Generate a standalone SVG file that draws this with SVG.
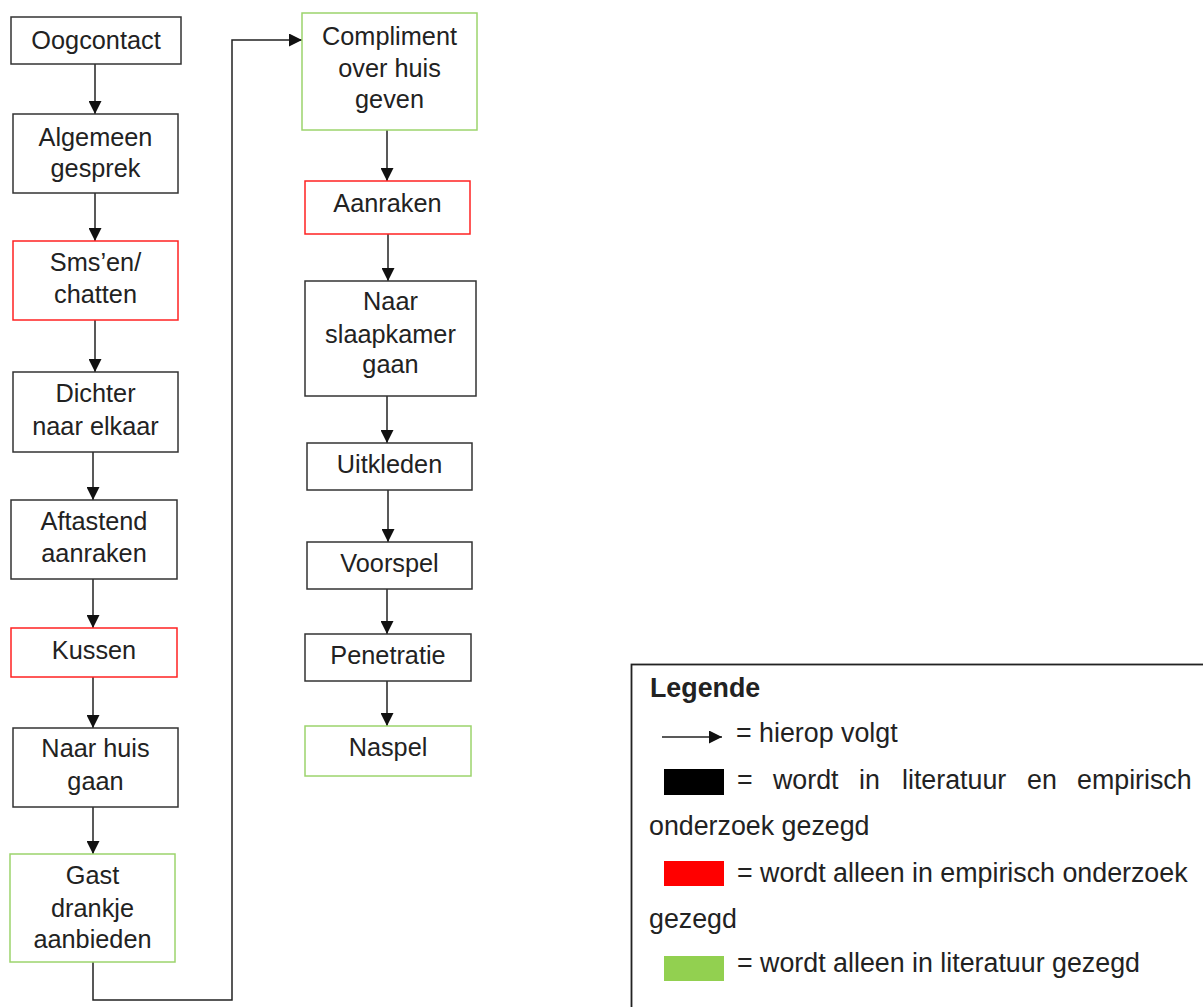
<svg xmlns="http://www.w3.org/2000/svg" width="1203" height="1007" viewBox="0 0 1203 1007">
<style>
  .box{fill:#fff;stroke-width:1.5}
  .k{stroke:#333}
  .r{stroke:#f22}
  .g{stroke:#9cd46c}
  .t{font-family:"Liberation Sans",Arial,sans-serif;font-size:25.3px;fill:#222;text-anchor:middle}
  .lg{font-family:"Liberation Sans",Arial,sans-serif;font-size:26.8px;fill:#222}
  .c{fill:none;stroke:#222;stroke-width:1.5}
</style>
<defs>
  <marker id="ah" viewBox="0 0 13 13" refX="13" refY="6.5" markerWidth="13" markerHeight="13" markerUnits="userSpaceOnUse" orient="auto">
    <path d="M0,0 L13,6.5 L0,13 z" fill="#111"/>
  </marker>
</defs>
<rect width="1203" height="1007" fill="#fff"/>

<g id="connectors">
  <line class="c" x1="95" y1="64" x2="95" y2="114" marker-end="url(#ah)"/>
  <line class="c" x1="95" y1="193" x2="95" y2="241" marker-end="url(#ah)"/>
  <line class="c" x1="95" y1="320" x2="95" y2="372" marker-end="url(#ah)"/>
  <line class="c" x1="93" y1="452" x2="93" y2="500" marker-end="url(#ah)"/>
  <line class="c" x1="93" y1="579" x2="93" y2="628" marker-end="url(#ah)"/>
  <line class="c" x1="93" y1="677" x2="93" y2="728" marker-end="url(#ah)"/>
  <line class="c" x1="93" y1="807" x2="93" y2="854" marker-end="url(#ah)"/>
  <polyline class="c" points="93,962 93,1000 232,1000 232,40 302,40" marker-end="url(#ah)"/>
  <line class="c" x1="387" y1="130" x2="387" y2="181" marker-end="url(#ah)"/>
  <line class="c" x1="388" y1="234" x2="388" y2="281" marker-end="url(#ah)"/>
  <line class="c" x1="387" y1="396" x2="387" y2="443" marker-end="url(#ah)"/>
  <line class="c" x1="388" y1="490" x2="388" y2="542" marker-end="url(#ah)"/>
  <line class="c" x1="387" y1="589" x2="387" y2="634" marker-end="url(#ah)"/>
  <line class="c" x1="387" y1="681" x2="387" y2="726" marker-end="url(#ah)"/>
</g>

<g id="n-oogcontact"><rect class="box k" x="11" y="17" width="170" height="47"/><text class="t" x="96" y="49">Oogcontact</text></g>
<g id="n-algemeen"><rect class="box k" x="13" y="114" width="165" height="79"/><text class="t" x="95.5" y="146">Algemeen</text><text class="t" x="95.5" y="177">gesprek</text></g>
<g id="n-sms"><rect class="box r" x="13" y="241" width="165" height="79"/><text class="t" x="95.5" y="271">Sms’en/</text><text class="t" x="95.5" y="303">chatten</text></g>
<g id="n-dichter"><rect class="box k" x="13" y="372" width="165" height="80"/><text class="t" x="95.5" y="402">Dichter</text><text class="t" x="95.5" y="435">naar elkaar</text></g>
<g id="n-aftastend"><rect class="box k" x="11" y="500" width="166" height="79"/><text class="t" x="94" y="530">Aftastend</text><text class="t" x="94" y="562">aanraken</text></g>
<g id="n-kussen"><rect class="box r" x="11" y="628" width="166" height="49"/><text class="t" x="94" y="659">Kussen</text></g>
<g id="n-naarhuis"><rect class="box k" x="13" y="728" width="165" height="79"/><text class="t" x="95.5" y="757">Naar huis</text><text class="t" x="95.5" y="790">gaan</text></g>
<g id="n-gast"><rect class="box g" x="10" y="854" width="165" height="108"/><text class="t" x="92.5" y="884">Gast</text><text class="t" x="92.5" y="917">drankje</text><text class="t" x="92.5" y="948">aanbieden</text></g>

<g id="n-compliment"><rect class="box g" x="302" y="13" width="175" height="117"/><text class="t" x="389.5" y="45">Compliment</text><text class="t" x="389.5" y="77">over huis</text><text class="t" x="389.5" y="108">geven</text></g>
<g id="n-aanraken"><rect class="box r" x="305" y="181" width="165" height="53"/><text class="t" x="387.5" y="212">Aanraken</text></g>
<g id="n-slaapkamer"><rect class="box k" x="305" y="281" width="171" height="115"/><text class="t" x="390.5" y="310">Naar</text><text class="t" x="390.5" y="343">slaapkamer</text><text class="t" x="390.5" y="373">gaan</text></g>
<g id="n-uitkleden"><rect class="box k" x="307" y="443" width="165" height="47"/><text class="t" x="389.5" y="473">Uitkleden</text></g>
<g id="n-voorspel"><rect class="box k" x="307" y="542" width="165" height="47"/><text class="t" x="389.5" y="572">Voorspel</text></g>
<g id="n-penetratie"><rect class="box k" x="305" y="634" width="166" height="47"/><text class="t" x="388" y="664">Penetratie</text></g>
<g id="n-naspel"><rect class="box g" x="305" y="726" width="166" height="50"/><text class="t" x="388" y="756">Naspel</text></g>

<g id="legend">
  <rect x="631.5" y="664.5" width="620" height="400" fill="#fff" stroke="#222" stroke-width="1.8"/>
  <text class="lg" x="650" y="697" font-weight="bold" font-size="26.3px" fill="#111">Legende</text>
  <line class="c" x1="662" y1="737" x2="722" y2="737" marker-end="url(#ah)"/>
  <text class="lg" x="736" y="742">= hierop volgt</text>
  <rect x="664" y="769" width="60" height="26" fill="#000"/>
  <text class="lg" y="789"><tspan x="737">=</tspan><tspan x="773">wordt</tspan><tspan x="859">in</tspan><tspan x="902">literatuur</tspan><tspan x="1027">en</tspan><tspan x="1077">empirisch</tspan></text>
  <text class="lg" x="649" y="835">onderzoek gezegd</text>
  <rect x="664" y="861" width="60" height="25" fill="#ff0000"/>
  <text class="lg" x="737" y="882">= wordt alleen in empirisch onderzoek</text>
  <text class="lg" x="649" y="928">gezegd</text>
  <rect x="664" y="956" width="60" height="25" fill="#92d050"/>
  <text class="lg" x="737" y="972">= wordt alleen in literatuur gezegd</text>
</g>
</svg>
